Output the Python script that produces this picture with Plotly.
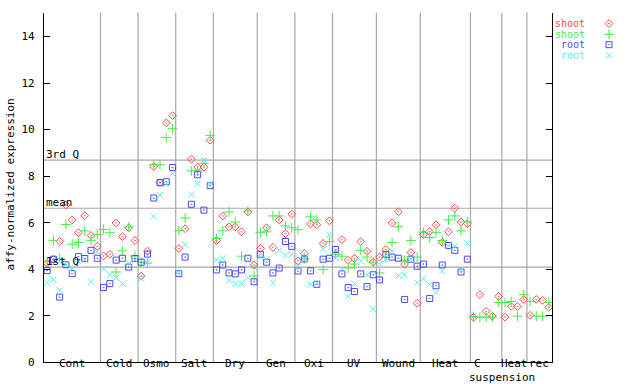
import plotly.graph_objects as go

# ---- data ----
groups = ["Cont", "Cold", "Osmo", "Salt", "Dry", "Gen", "Oxi", "UV", "Wound", "Heat", "C suspension", "Heat", "rec"]
group_sizes = [9, 6, 6, 6, 7, 6, 6, 7, 7, 8, 5, 4, 4]

shoot_a = [4.25, 4.42, 5.20, 6.76, 6.12, 5.57, 6.30, 5.45, 4.98,
           4.57, 4.64, 5.99, 5.40, 5.78, 5.23,
           3.70, 4.78, 8.41, 7.72, 10.29, 10.60,
           4.89, 5.74, 8.73, 8.39, 8.39, 9.54,
           5.23, 6.29, 5.82, 5.82, 5.61, 6.46, 4.18,
           4.89, 5.78, 4.94, 6.12, 5.53, 6.37,
           4.36, 4.68, 5.95, 5.91, 5.11, 6.08,
           4.64, 5.27, 4.39, 4.47, 5.19, 4.77, 4.31,
           4.52, 4.85, 5.99, 6.47, 4.22, 4.72, 2.54,
           5.49, 5.62, 5.91, 5.15, 5.61, 6.62, 6.03, 5.95,
           1.93, 2.91, 2.19, 1.98, 2.83,
           1.94, 2.40, 2.40, 2.70,
           2.02, 2.70, 2.66, 2.36]
shoot_b = [4.33, 5.24, 4.47, 5.92, 5.07, 5.15, 5.65, 5.24, 5.49,
           5.71, 5.57, 3.88, 4.79, 5.82, 4.57,
           4.30, 4.26, 8.49, 8.49, 9.66, 10.04,
           5.66, 6.20, 8.23, 8.23, 8.55, 9.75,
           5.32, 5.65, 6.46, 6.03, 4.56, 6.50, 3.71,
           5.57, 5.61, 6.29, 6.29, 5.86, 5.78,
           5.70, 4.45, 6.25, 6.12, 3.98, 5.19,
           4.64, 4.56, 4.05, 4.22, 4.81, 4.52, 4.30,
           3.84, 4.52, 5.15, 5.82, 4.39, 5.23, 4.52,
           5.57, 5.36, 5.57, 5.23, 6.12, 6.29, 5.65, 6.03,
           1.97, 1.94, 1.94, 1.94, 2.57,
           2.57, 2.61, 1.98, 2.91,
           2.61, 1.98, 1.98, 2.57]
root_a = [3.94, 4.43, 2.80, 4.19, 3.81, 4.54, 4.46, 4.81, 4.47,
          3.21, 3.38, 4.39, 4.47, 4.09, 4.46,
          4.30, 4.65, 7.06, 7.72, 7.76, 8.37,
          3.81, 4.52, 6.79, 8.06, 6.54, 7.59,
          3.97, 4.18, 3.84, 3.80, 3.97, 4.47, 3.46,
          4.64, 4.30, 3.84, 4.05, 5.19, 4.98,
          3.92, 4.44, 3.93, 3.35, 4.43, 4.47,
          4.85, 3.80, 3.21, 3.04, 3.80, 3.25, 3.76,
          3.54, 4.64, 4.52, 4.47, 2.70, 4.43, 4.13,
          4.22, 2.74, 3.29, 4.18, 5.02, 4.81, 3.88, 4.43] + [None] * 13
root_b = [3.43, 3.56, 3.10, 4.20, 4.02, 4.33, 4.40, 3.46, 4.73,
          4.02, 3.76, 3.63, 3.38, 4.26, 4.40,
          3.59, 4.30, 6.26, 7.19, 7.66, 8.11,
          3.86, 5.06, 7.21, 7.68, 8.69, 7.68,
          4.39, 4.47, 3.51, 3.38, 3.38, 3.63, 4.09,
          4.52, 4.43, 3.42, 4.81, 4.60, 4.64,
          4.12, 4.44, 3.35, 3.40, 4.86, 5.48,
          4.47, 4.02, 2.83, 3.38, 4.36, 3.76, 2.28,
          4.22, 4.43, 4.77, 3.73, 3.76, 4.43, 3.42,
          3.59, 3.35, 3.00, 3.92, 5.00, 4.98, 3.98, 5.11] + [None] * 13

stat_values = [4.09, 6.62, 8.69]
stat_labels = ["1st Q", "mean", "3rd Q"]
y_ticks = [0, 2, 4, 6, 8, 10, 12, 14]

series_names = ["shoot", "shoot", "root", "root"]
series_colors = ["#ff4a4a", "#44ee44", "#4a4aee", "#55eeee"]
series_symbols = ["diamond-open-dot", "cross-thin-open", "square-open-dot", "x-thin-open"]
series_sizes = [6, 7, 6, 6]
series_data = [shoot_a, shoot_b, root_a, root_b]

FONT = "DejaVu Sans Mono"
W, H = 640, 384
L, R, T, B = 44, 552, 13, 369

n = sum(group_sizes)
xs = list(range(n))

fig = go.Figure()
for name, col, sym, sz, vals in zip(series_names, series_colors, series_symbols, series_sizes, series_data):
    fig.add_trace(go.Scatter(
        x=xs, y=vals, mode="markers", name=name, showlegend=False,
        marker=dict(symbol=sym, size=sz, color=col, line=dict(color=col, width=1)),
        xaxis="x", yaxis="y", cliponaxis=True))

# legend markers on a pixel overlay axis
leg_rows = [24, 35, 45.5, 56.5]
for i, (col, sym, sz) in enumerate(zip(series_colors, series_symbols, series_sizes)):
    fig.add_trace(go.Scatter(
        x=[609], y=[leg_rows[i]], mode="markers", showlegend=False, hoverinfo="skip",
        marker=dict(symbol=sym, size=sz, color=col, line=dict(color=col, width=1)),
        xaxis="x3", yaxis="y3"))

shapes = []
annotations = []
grid = "#a8a8a8"
# group separators
edge = 0
for gs in group_sizes[:-1]:
    edge += gs
    shapes.append(dict(type="line", xref="x", yref="y domain", x0=edge - 0.5, x1=edge - 0.5,
                       y0=0, y1=1, line=dict(color=grid, width=1.2), layer="below"))
# stat lines
for v, lab in zip(stat_values, stat_labels):
    shapes.append(dict(type="line", xref="x domain", yref="y", x0=0, x1=1, y0=v, y1=v,
                       line=dict(color=grid, width=1.2), layer="below"))
    annotations.append(dict(x=0, xref="x domain", y=v, yref="y", text=lab, showarrow=False,
                            xanchor="left", yanchor="bottom", yshift=-3,
                            font=dict(family=FONT, size=11, color="black")))
# group labels
start = 0
for g, gs in zip(groups, group_sizes):
    c = start + (gs - 1) / 2
    if g == "C suspension":
        annotations.append(dict(x=c, xref="x", y=0, yref="y", text="C", showarrow=False,
                                xanchor="center", yanchor="bottom", xshift=-9, yshift=-10,
                                font=dict(family=FONT, size=11, color="black")))
        annotations.append(dict(x=c, xref="x", y=0, yref="y", text="suspension", showarrow=False,
                                xanchor="center", yanchor="top", xshift=16, yshift=-7,
                                font=dict(family=FONT, size=11, color="black")))
    else:
        annotations.append(dict(x=c, xref="x", y=0, yref="y", text=g, showarrow=False,
                                xanchor="center", yanchor="bottom", yshift=-10,
                                font=dict(family=FONT, size=11, color="black")))
    start += gs

# legend texts
for i, (name, col) in enumerate(zip(series_names, series_colors)):
    annotations.append(dict(x=586, xref="x3", y=leg_rows[i], yref="y3", text=name, showarrow=False,
                            xanchor="right", yanchor="middle", borderpad=0,
                            font=dict(family=FONT, size=10, color=col)))

# y axis title
annotations.append(dict(x=11, xref="x3", y=188, yref="y3", text="affy-normalized expression",
                        showarrow=False, textangle=-90, xanchor="center", yanchor="middle",
                        font=dict(family=FONT, size=11, color="black")))

fig.update_layout(
    width=W, height=H, margin=dict(l=0, r=0, t=0, b=0),
    paper_bgcolor="white", plot_bgcolor="rgba(0,0,0,0)",
    font=dict(family=FONT, size=11, color="black"),
    xaxis=dict(domain=[L / W, R / W], range=[-0.5, n - 0.5], showgrid=False, zeroline=False,
               showline=True, linecolor="black", linewidth=1, ticks="", showticklabels=False,
               anchor="y"),
    yaxis=dict(domain=[(H - B) / H, (H - T) / H], range=[0, (B - T) / 23.7], showgrid=False,
               zeroline=False, showline=True, linecolor="black", linewidth=1.2,
               ticks="inside", ticklen=6, tickcolor="black", mirror="ticks",
               tickvals=y_ticks, ticktext=[str(t) for t in y_ticks],
               ticklabelstandoff=6, anchor="x",
               tickfont=dict(family=FONT, size=11, color="black")),
    xaxis3=dict(domain=[0, 1], range=[0, W], visible=False, anchor="y3", fixedrange=True),
    yaxis3=dict(domain=[0, 1], range=[H, 0], visible=False, anchor="x3", fixedrange=True),
    shapes=shapes, annotations=annotations, showlegend=False,
)

fig.write_html("out.html", config={"displayModeBar": False},
               post_script="document.body.style.margin='0';")
